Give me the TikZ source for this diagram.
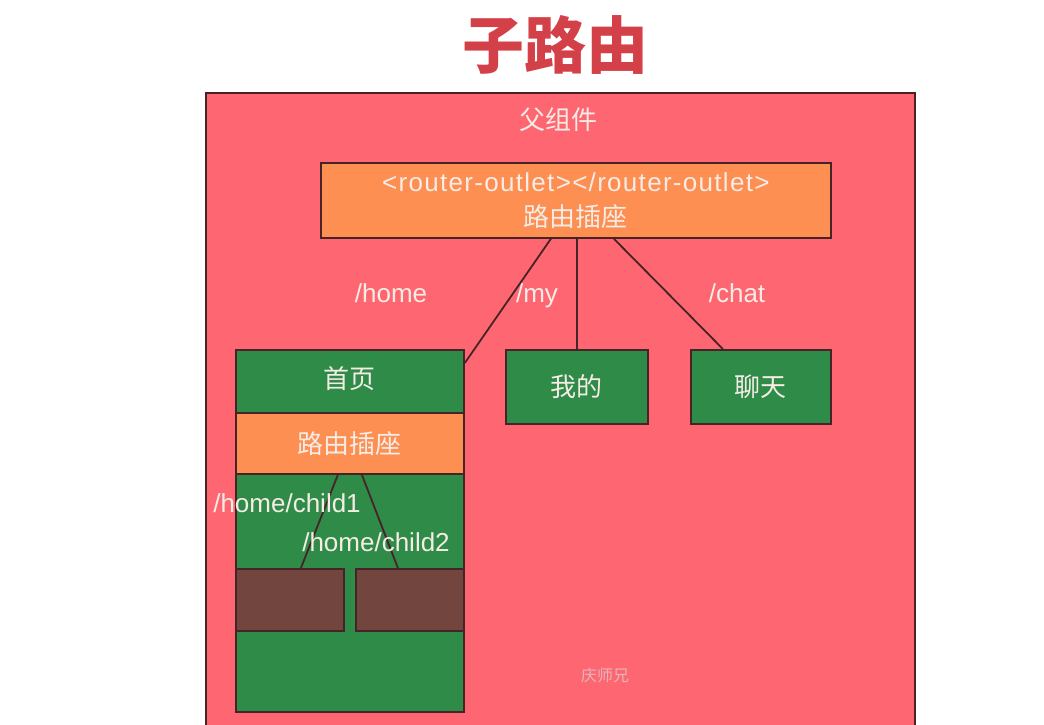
\documentclass[tikz,border=0pt]{standalone}
\usepackage{fontspec}
\setmainfont{Liberation Sans}
\newfontfamily\cjk{Noto Sans CJK SC}
\usetikzlibrary{positioning}

\definecolor{parentred}{RGB}{254,103,113}
\definecolor{outletorange}{RGB}{253,143,82}
\definecolor{pagegreen}{RGB}{47,139,72}
\definecolor{childbrown}{RGB}{114,69,62}
\definecolor{edgedark}{RGB}{70,35,38}
\definecolor{titlered}{RGB}{212,64,72}
\definecolor{labeltext}{RGB}{246,236,230}
\definecolor{markpink}{RGB}{226,182,186}

\begin{document}
\begin{tikzpicture}[x=1pt, y=-1pt]
\tikzstyle{frame} = [draw=edgedark, line width=1.8pt, anchor=north west,
    inner sep=0pt, text=labeltext, font=\fontsize{26}{35}\selectfont]
\tikzstyle{page} = [frame, fill=pagegreen]
\tikzstyle{slot} = [frame, fill=outletorange, align=center]
\tikzstyle{child} = [frame, fill=childbrown]
\tikzstyle{caption} = [text=labeltext, inner sep=0pt, text height=19pt, text depth=6pt,
    font=\fontsize{26}{35}\selectfont]
\tikzstyle{line} = [draw=edgedark, line width=1.8pt]

 \clip (0,0) rectangle (1044,725);
 \fill [white] (0,0) rectangle (1044,725);

 \node [text=titlered, font=\cjk\bfseries\fontsize{62}{70}\selectfont] (title) at (555,45) {子路由};

 \node [frame, fill=parentred, line width=2.2pt, minimum width=709pt, minimum height=660pt] (parent) at (205,92) {};
 \node [caption] (parentlabel) at (558,123) {\cjk 父组件};

 \node [slot, minimum width=510pt, minimum height=75pt] (outlet) at (320,162)
    {{\addfontfeature{LetterSpace=5}<router-outlet></router-outlet>}\\{\cjk 路由插座}};

 \node [page, minimum width=228pt, minimum height=362pt] (home) at (235,349) {};
 \node [caption] (hometitle) at (349,382) {\cjk 首页};
 \node [slot, minimum width=228pt, minimum height=61pt] (band) at (235,412) {\cjk 路由插座};

 \node [page, minimum width=142pt, minimum height=74pt] (my) at (505,349) {\cjk 我的};
 \node [page, minimum width=140pt, minimum height=74pt] (chat) at (690,349) {\cjk 聊天};

 \node [child, minimum width=108pt, minimum height=62pt] (childone) at (235,568) {};
 \node [child, minimum width=108pt, minimum height=62pt] (childtwo) at (355,568) {};

 \path [line] ([xshift=-25pt]outlet.south) -- ([yshift=-14pt]home.north east);
 \path [line] (outlet.south -| my.north) -- (my.north);
 \path [line] ([xshift=38pt]outlet.south) -- ([xshift=-38pt]chat.north);

 \path [line] ([xshift=-12pt]band.south) -- ([xshift=11pt]childone.north);
 \path [line] ([xshift=12pt]band.south) -- ([xshift=-12pt]childtwo.north);

 \node [caption] (homeroute) at (391,296) {/home};
 \node [caption] (myroute) at (537,296) {/my};
 \node [caption] (chatroute) at (737,296) {/chat};
 \node [caption] (childoneroute) at (287,506) {/home/child1};
 \node [caption] (childtworoute) at (376,545) {/home/child2};

 \node [text=markpink, font=\cjk\fontsize{16}{18}\selectfont] (mark) at (605,675) {庆师兄};
\end{tikzpicture}
\end{document}
